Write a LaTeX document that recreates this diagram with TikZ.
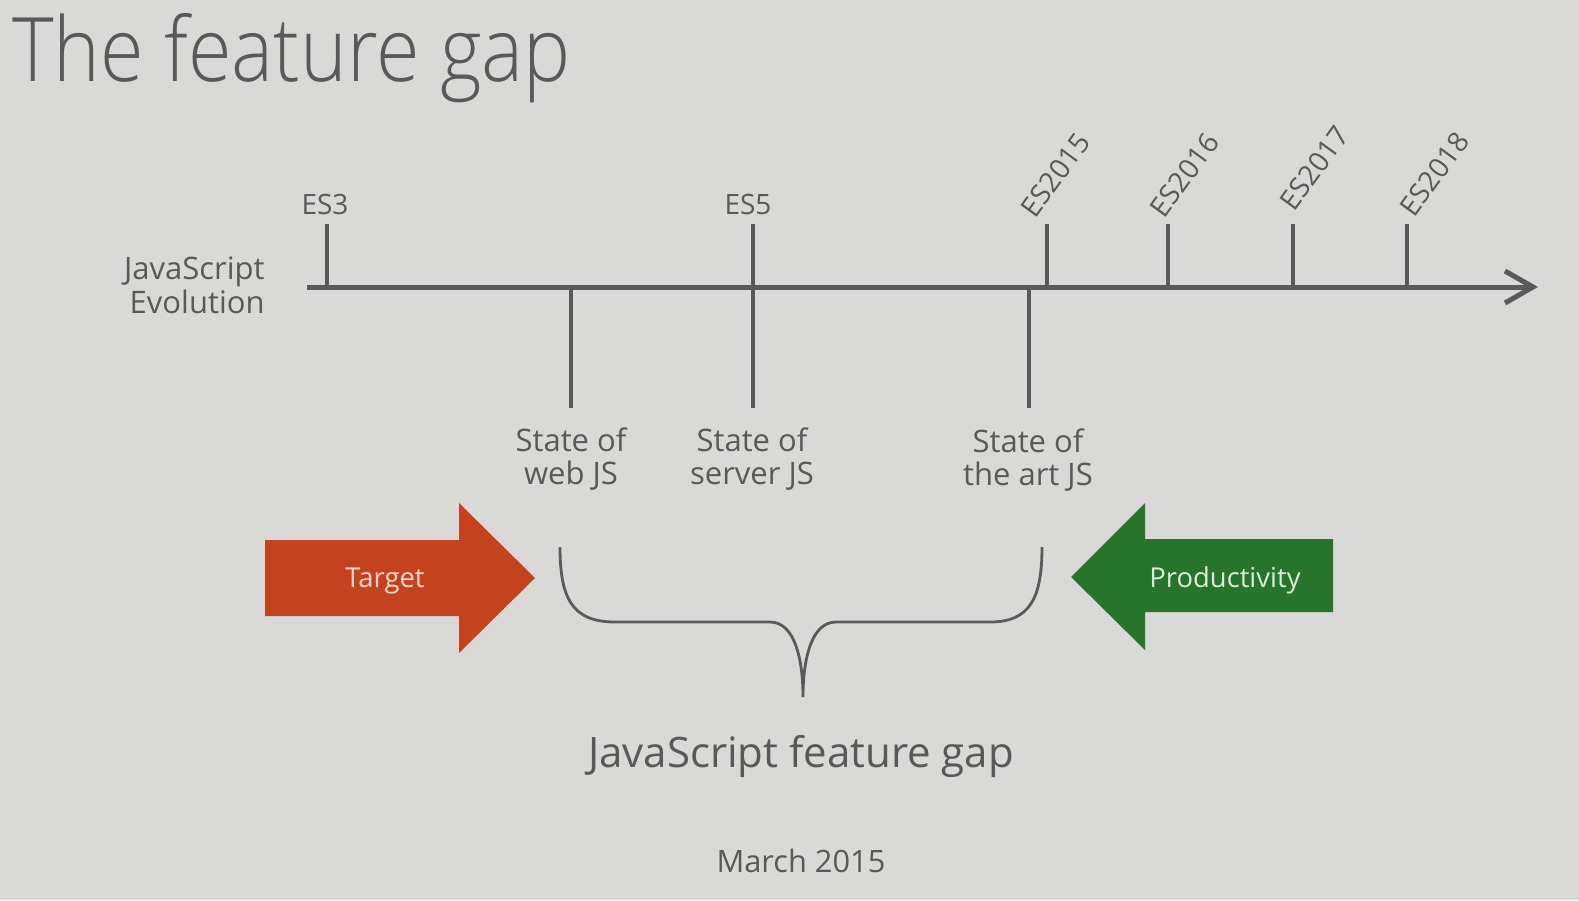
\documentclass[tikz,border=0pt]{standalone}
\usepackage{fontspec}
\setmainfont{Open Sans}
\newfontfamily\titlefont{Open Sans Light}
\usetikzlibrary{arrows.meta}
\definecolor{bg}{HTML}{D9D9D7}
\definecolor{ink}{HTML}{595959}
\definecolor{linec}{HTML}{5A5A5A}
\definecolor{tgt}{HTML}{C4421D}
\definecolor{prod}{HTML}{26752B}
\definecolor{tgttext}{HTML}{F2D6CC}
\definecolor{prodtext}{HTML}{DDEBD9}
\begin{document}
\begin{tikzpicture}[x=0.5pt,y=-0.5pt,
  lbl/.style={text=ink, font=\fontsize{15.5}{16.5}\selectfont, align=center, inner sep=0pt},
  eslbl/.style={text=ink, font=\fontsize{14}{16}\selectfont, inner sep=0pt},
  esrot/.style={eslbl, rotate=54, anchor=south west},
  axisline/.style={draw=linec, line width=2.5pt},
  tickline/.style={draw=linec, line width=2pt},
  braceline/.style={draw=linec, line width=1.4pt},
  arrtxt/.style={font=\fontsize{13.7}{15}\selectfont, inner sep=0pt}]
\fill[bg] (0,0) rectangle (1579,900);
\useasboundingbox (0,0) rectangle (1579,900);

% title
\node[anchor=base west, inner sep=0pt, text=ink] (title) at (12,81)
  {\scalebox{0.89}[1]{\titlefont\fontsize{44.5}{48}\selectfont The feature gap}};

% axis label
\node[lbl, align=right, anchor=east, font=\fontsize{15.5}{17}\selectfont] (evo) at (265,285) {JavaScript\\Evolution};

% axis
\coordinate (axL) at (307,287);
\coordinate (axR) at (1538,287);
\draw[axisline, -{Straight Barb[length=14pt,width=16pt]}] (axL) -- (axR);

% upward ticks
\foreach \n/\x in {t3/327, t5/753, t15/1047, t16/1168, t17/1293, t18/1407}{
  \coordinate (\n top) at (\x,224);
  \coordinate (\n bot) at (\x,287);
}
\draw[tickline] (t3top) -- (t3bot);
\draw[tickline] (t15top) -- (t15bot);
\draw[tickline] (t16top) -- (t16bot);
\draw[tickline] (t17top) -- (t17bot);
\draw[tickline] (t18top) -- (t18bot);

% downward ticks
\coordinate (webtop) at (571,287);
\coordinate (webbot) at (571,408);
\coordinate (srvbot) at (753,408);
\coordinate (arttop) at (1029,287);
\coordinate (artbot) at (1029,408);
\draw[tickline] (webtop) -- (webbot);
\draw[tickline] (t5top) -- (srvbot);
\draw[tickline] (arttop) -- (artbot);

% version labels
\node[eslbl, anchor=base] (es3) at (325,214) {ES3};
\node[eslbl, anchor=base] (es5) at (748,214) {ES5};
\node[esrot] (es2015) at (1036,220) {ES2015};
\node[esrot] (es2016) at (1165,220) {ES2016};
\node[esrot] (es2017) at (1295,213) {ES2017};
\node[esrot] (es2018) at (1415,219) {ES2018};

% state labels
\node[lbl] (web) at (571,459) {State of\\web JS};
\node[lbl] (srv) at (752,459) {State of\\server JS};
\node[lbl] (art) at (1028,460) {State of\\the art JS};

% Target arrow
\fill[tgt] (265,540) -- (459,540) -- (459,503) -- (535,578) -- (459,653) -- (459,616) -- (265,616) -- cycle;
\node[arrtxt, text=tgttext] (target) at (385,581) {Target};

% Productivity arrow
\fill[prod] (1333,539) -- (1145,539) -- (1145,503) -- (1071,577) -- (1145,650) -- (1145,612) -- (1333,612) -- cycle;
\node[arrtxt, text=prodtext] (productivity) at (1225,580) {Productivity};

% brace
\coordinate (brL) at (560,547);
\coordinate (brR) at (1042,547);
\coordinate (brTip) at (803,697);
\draw[braceline] (brL) .. controls (560,598) and (572,622) .. (615,622)
  -- (770,622) .. controls (795,622) and (803,660) .. (brTip)
  .. controls (803,660) and (811,622) .. (836,622)
  -- (990,622) .. controls (1030,622) and (1042,598) .. (brR);

% bottom texts
\node[text=ink, font=\fontsize{21}{24}\selectfont, anchor=base, inner sep=0pt] (gap) at (801,767) {JavaScript feature gap};
\node[text=ink, font=\fontsize{15.4}{18}\selectfont, anchor=base, inner sep=0pt] (date) at (801,872) {March 2015};
\end{tikzpicture}
\end{document}
